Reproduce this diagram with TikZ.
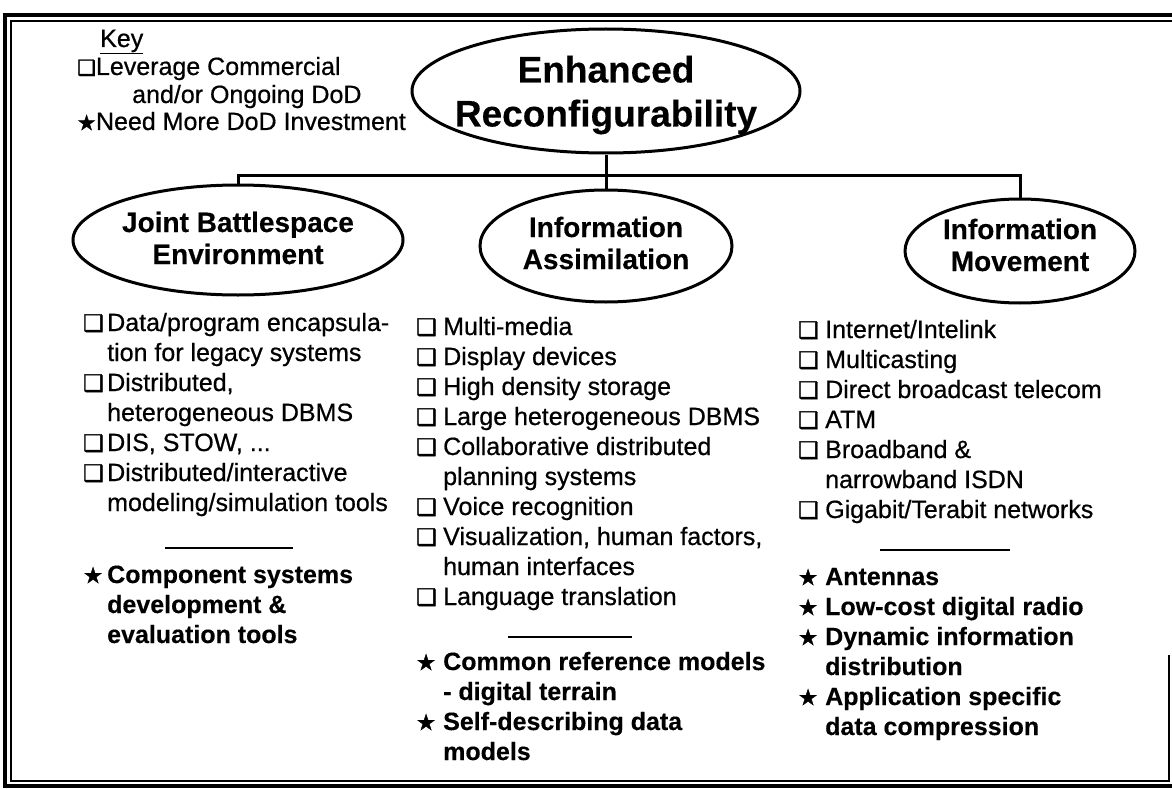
\documentclass[tikz,border=0pt]{standalone}
\usepackage{fontspec}
\setmainfont[FakeBold=0.6,BoldFont={Liberation Sans Bold},BoldFeatures={FakeBold=0.3}]{Liberation Sans}
\newfontfamily\symfont[FakeBold=1.8]{DejaVu Sans}
\usetikzlibrary{shapes.geometric}
\newcommand{\cbx}{\makebox[27pt][l]{\symfont\fontsize{23}{23}\selectfont ❑}}
\newcommand{\cbxl}{\makebox[24pt][l]{\symfont\fontsize{23}{23}\selectfont ❑}}
\newcommand{\bst}{\makebox[27pt][l]{\symfont\fontsize{22}{22}\selectfont ★}}
\newcommand{\bstl}{\makebox[24pt][l]{\symfont\fontsize{22}{22}\selectfont ★}}
\newcommand{\ind}{\makebox[27pt]{}}
\newcommand{\indl}{\makebox[24pt]{}}
\tikzset{
  oval/.style={ellipse, draw, line width=3pt, inner sep=0pt},
  lbl/.style={align=center, inner sep=0pt, font=\fontsize{28}{32}\selectfont\bfseries},
  toplbl/.style={align=center, inner sep=0pt, font=\fontsize{37}{44}\selectfont\bfseries},
  link/.style={line width=3pt, line join=miter},
  divider/.style={line width=2pt},
  lst/.style={anchor=base west, inner sep=0pt, font=\fontsize{25}{30}\selectfont},
  slst/.style={lst, font=\fontsize{25}{30}\selectfont\bfseries},
  keytxt/.style={anchor=base west, inner sep=0pt, font=\fontsize{25}{30}\selectfont},
  frameout/.style={line width=3.5pt},
  framein/.style={line width=2pt}
}
\begin{document}
\begin{tikzpicture}[x=1pt,y=-1pt]
\useasboundingbox (0,0) rectangle (1172,789);
% frame
\draw[frameout] (1172,15) -- (5,15) -- (5,786) -- (1172,786);
\draw[framein] (1172,21) -- (11,21) -- (11,781) -- (1169,781) -- (1169,655);
% key
\node[keytxt] (keyh) at (100,47) {\underline{Key}};
\node[keytxt] (key1) at (77,75) {{\symfont\fontsize{21}{21}\selectfont ❑}Leverage Commercial};
\node[keytxt] (key2) at (132,103) {and/or Ongoing DoD};
\node[keytxt] (key3) at (77,130) {{\symfont\fontsize{21}{21}\selectfont ★}Need More DoD Investment};
% ellipses
\node[oval, minimum width=388pt, minimum height=124pt] (top) at (606,91) {};
\node[toplbl] (toplabel) at (606,95) {Enhanced\\Reconfigurability};
\node[oval, minimum width=330pt, minimum height=110pt] (jbe) at (238,240) {};
\node[lbl] (jbelabel) at (238,238) {Joint Battlespace\\Environment};
\node[oval, minimum width=252pt, minimum height=112pt] (ia) at (606,246) {};
\node[lbl] (ialabel) at (606,243) {Information\\Assimilation};
\node[oval, minimum width=230pt, minimum height=104pt] (im) at (1020,251) {};
\node[lbl] (imlabel) at (1020,245) {Information\\Movement};
% connectors
\coordinate (bus) at (606,175);
\draw[link] (top.south) -- (ia.north);
\draw[link] (jbe.north) -- (jbe.north |- bus) -- (im.north |- bus) -- (im.north);
% left column
\node[lst] (lbox) at (83,331) {\begin{tabular}[t]{@{}l@{}l@{}}
\cbxl & Data/program encapsula-\\
\indl & tion for legacy systems\\
\cbxl & Distributed,\\
\indl & heterogeneous DBMS\\
\cbxl & DIS, STOW, ...\\
\cbxl & Distributed/interactive\\
\indl & modeling/simulation tools
\end{tabular}};
\draw[divider] (165,548) -- (293,548);
\node[slst] (lstar) at (83,583) {\begin{tabular}[t]{@{}l@{}l@{}}
\bstl & Component systems\\
\indl & development \&\\
\indl & evaluation tools
\end{tabular}};
% middle column
\node[lst] (mbox) at (416,335) {\begin{tabular}[t]{@{}l@{}l@{}}
\cbx & Multi-media\\
\cbx & Display devices\\
\cbx & High density storage\\
\cbx & Large heterogeneous DBMS\\
\cbx & Collaborative distributed\\
\ind & planning systems\\
\cbx & Voice recognition\\
\cbx & Visualization, human factors,\\
\ind & human interfaces\\
\cbx & Language translation
\end{tabular}};
\draw[divider] (508,637) -- (632,637);
\node[slst] (mstar) at (416,670) {\begin{tabular}[t]{@{}l@{}l@{}}
\bst & Common reference models\\
\ind & - digital terrain\\
\bst & Self-describing data\\
\ind & models
\end{tabular}};
% right column
\node[lst] (rbox) at (798,338) {\begin{tabular}[t]{@{}l@{}l@{}}
\cbx & Internet/Intelink\\
\cbx & Multicasting\\
\cbx & Direct broadcast telecom\\
\cbx & ATM\\
\cbx & Broadband \&\\
\ind & narrowband ISDN\\
\cbx & Gigabit/Terabit networks
\end{tabular}};
\draw[divider] (880,550) -- (1010,550);
\node[slst] (rstar) at (798,585) {\begin{tabular}[t]{@{}l@{}l@{}}
\bst & Antennas\\
\bst & Low-cost digital radio\\
\bst & Dynamic information\\
\ind & distribution\\
\bst & Application specific\\
\ind & data compression
\end{tabular}};
\end{tikzpicture}
\end{document}
